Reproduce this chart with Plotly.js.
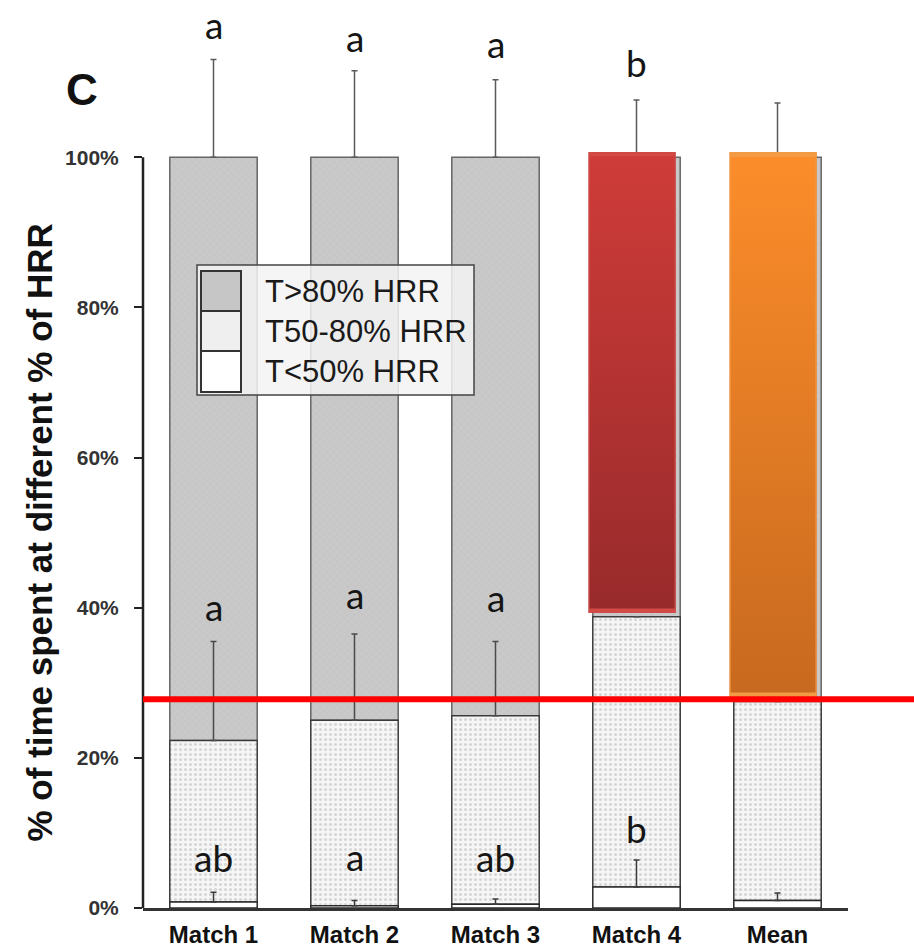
<!DOCTYPE html>
<html>
<head>
<meta charset="utf-8">
<script src="https://cdn.plot.ly/plotly-3.0.1.min.js"></script>
<style>
  html, body { margin: 0; padding: 0; background: #ffffff; }
  #chart { width: 914px; height: 951px; }
</style>
</head>
<body>
<div id="chart"></div>
<script>
// ---------------- data ----------------
const categories = ['Match 1', 'Match 2', 'Match 3', 'Match 4', 'Mean'];
const seriesNames = ['T>80% HRR', 'T50-80% HRR', 'T<50% HRR'];
const yTickVals = [0, 20, 40, 60, 80, 100];
const yTickText = ['0%', '20%', '40%', '60%', '80%', '100%'];
const yTitle = '% of time spent at different % of HRR';

// % of time in each zone (stacked bottom -> top: low, mid, high)
const lowZone  = [0.8, 0.3, 0.5, 2.8, 1.0];     // T<50% HRR
const midZone  = [21.5, 24.7, 25.1, 36.0, 26.5]; // T50-80% HRR
const highZone = [77.7, 75.0, 74.4, 61.2, 72.5]; // T>80% HRR

// upper error bars (SD)
const highErr = [13.0, 11.5, 10.3, 7.6, 7.2];
const midErr  = [13.2, 11.5, 9.9, null, null];
const lowErr  = [1.3, 0.7, 0.7, 3.6, 1.0];

// significance letters
const highLetters = ['a', 'a', 'a', 'b', ''];
const highLetterY = [117.7, 116.0, 115.2, 112.6, null];
const midLetters  = ['a', 'a', 'a', '', ''];
const midLetterY  = [40.1, 41.8, 41.3, null, null];
const lowLetters  = ['ab', 'a', 'ab', 'b', ''];
const lowLetterY  = [6.7, 6.8, 6.7, 10.6, null];

// highlighted overlay blocks (Match 4 and Mean)
const highlightBase = [null, null, null, 39.3, 28.0];
const highlightTop  = [null, null, null, 100.7, 100.7];

// reference line
const refLineValue = 27.8;

// ---------------- build ----------------
const FONT = 'Liberation Sans, Arial, sans-serif';
const XR = [-0.5, 4.5], YR = [0, 120];
const midBase  = lowZone.slice();
const highBase = lowZone.map((v, i) => v + midZone[i]);
const BAR_W = 0.62, HL_W = 0.617, HL_OFF = -0.34;

const traceHigh = {
  type: 'bar', name: seriesNames[0], x: categories, y: highZone, base: highBase,
  width: BAR_W, showlegend: false,
  marker: { color: '#c8c8c8', line: { color: '#666', width: 1.5 },
            pattern: { shape: 'x', fgcolor: '#bdbdbd', bgcolor: '#c9c9c9', size: 5, solidity: 0.15 } },
  error_y: { type: 'data', array: highErr, symmetric: false, arrayminus: highErr.map(() => 0),
             color: '#5a5a5a', thickness: 1.5, width: 3 },
  hoverinfo: 'skip'
};
const traceMid = {
  type: 'bar', name: seriesNames[1], x: categories, y: midZone, base: midBase,
  width: BAR_W, showlegend: false,
  marker: { color: '#f3f3f3', line: { color: '#3a3a3a', width: 1.5 },
            pattern: { shape: '.', fgcolor: '#d6d6d6', bgcolor: '#f6f6f6', size: 5, solidity: 0.3 } },
  error_y: { type: 'data', array: midErr, symmetric: false, arrayminus: midErr.map(() => 0),
             color: '#4a4a4a', thickness: 1.5, width: 3 },
  hoverinfo: 'skip'
};
const traceLow = {
  type: 'bar', name: seriesNames[2], x: categories, y: lowZone, base: lowZone.map(() => 0),
  width: BAR_W, showlegend: false,
  marker: { color: '#ffffff', line: { color: '#2a2a2a', width: 1.5 } },
  error_y: { type: 'data', array: lowErr, symmetric: false, arrayminus: lowErr.map(() => 0),
             color: '#3a3a3a', thickness: 1.5, width: 3 },
  hoverinfo: 'skip'
};
const hlColors = [null, null, null, '#b83533', '#e67a24'];
const traceHighlight = {
  type: 'bar', name: 'highlight', x: categories,
  y: highlightTop.map((t, i) => (t == null ? null : t - highlightBase[i])),
  base: highlightBase, width: HL_W, offset: HL_OFF, showlegend: false,
  marker: { color: hlColors, line: { width: 0 } },
  hoverinfo: 'skip'
};

// gradient overlays for the highlighted blocks (placed on the data axes)
function gradSvg(c1, c2, edge) {
  const s = "<svg xmlns='http://www.w3.org/2000/svg' width='100' height='100' viewBox='0 0 100 100' preserveAspectRatio='none'>" +
    "<defs><linearGradient id='g' x1='0' y1='0' x2='0' y2='1'><stop offset='0' stop-color='" + c1 + "'/>" +
    "<stop offset='1' stop-color='" + c2 + "'/></linearGradient></defs>" +
    "<rect x='0' y='0' width='100' height='100' fill='url(#g)'/>" +
    "<rect x='0.5' y='0.2' width='99' height='99.6' fill='none' stroke='" + edge + "' stroke-width='1.5' vector-effect='non-scaling-stroke'/></svg>";
  return 'data:image/svg+xml;charset=utf-8,' + encodeURIComponent(s);
}
const gradStops = [null, null, null, ['#cf3c39', '#982a2b', '#d24a46'], ['#fc8d2a', '#c7691f', '#f39a45']];
const images = [];
categories.forEach((c, i) => {
  if (highlightBase[i] == null) return;
  images.push({
    source: gradSvg(gradStops[i][0], gradStops[i][1], gradStops[i][2]),
    xref: 'x', yref: 'y', x: i + HL_OFF, y: highlightTop[i],
    sizex: HL_W, sizey: highlightTop[i] - highlightBase[i],
    xanchor: 'left', yanchor: 'top', sizing: 'stretch', layer: 'above'
  });
});

// annotations: letters
const annotations = [];
function addLetters(txts, ys) {
  txts.forEach((t, i) => {
    if (!t) return;
    annotations.push({ x: categories[i], y: ys[i], xref: 'x', yref: 'y', text: t, showarrow: false,
      xanchor: 'center', yanchor: 'middle', font: { family: 'Lato, Open Sans, sans-serif', size: 37, color: '#151515' } });
  });
}
addLetters(highLetters, highLetterY);
addLetters(midLetters, midLetterY);
addLetters(lowLetters, lowLetterY);

// plot area in pixels (for the drawn legend box, panel letter and y title)
const L = 143, T = 7, PW = 705, PH = 901;
const px = v => (v - L) / PW;
const py = v => (T + PH - v) / PH;

// panel letter
annotations.push({ xref: 'paper', yref: 'paper', x: px(82), y: py(89), text: 'C', showarrow: false,
  xanchor: 'center', yanchor: 'middle', font: { family: FONT, size: 44, color: '#111', weight: 'bold' } });

// y axis title (centred on the 0-100% span of the axis)
annotations.push({ xref: 'paper', yref: 'y', x: px(40), y: (yTickVals[0] + yTickVals[yTickVals.length - 1]) / 2,
  text: yTitle, textangle: -90, showarrow: false, xanchor: 'center', yanchor: 'middle',
  font: { family: FONT, size: 35, color: '#111', weight: 'bold' } });

const shapes = [];
// y axis line 0..100%
shapes.push({ type: 'line', xref: 'paper', yref: 'y', x0: 0, x1: 0, y0: 0, y1: 100,
  line: { color: '#222', width: 2.5 } });
// red reference line
shapes.push({ type: 'line', xref: 'paper', yref: 'y', x0: 0, x1: px(914), y0: refLineValue, y1: refLineValue,
  line: { color: '#ff0000', width: 6 }, layer: 'above' });

// legend box
shapes.push({ type: 'rect', xref: 'paper', yref: 'paper', x0: px(197), x1: px(474), y0: py(395), y1: py(265),
  fillcolor: 'rgba(243,243,243,0.85)', line: { color: '#444', width: 1.5 }, layer: 'above' });
const swFill = ['#c6c6c6', '#efefef', '#ffffff'];
const swTop = [271, 311, 351], swBot = [311, 351, 392];
seriesNames.forEach((n, k) => {
  shapes.push({ type: 'rect', xref: 'paper', yref: 'paper', x0: px(201), x1: px(241), y0: py(swBot[k]), y1: py(swTop[k]),
    fillcolor: swFill[k], line: { color: '#333', width: 2 }, layer: 'above' });
  annotations.push({ xref: 'paper', yref: 'paper', x: px(263), y: py((swTop[k] + swBot[k]) / 2), text: n,
    showarrow: false, xanchor: 'left', yanchor: 'middle', font: { family: FONT, size: 31, color: '#1a1a1a' } });
});

const layout = {
  width: 914, height: 951,
  margin: { l: L, r: 914 - L - PW, t: T, b: 951 - T - PH },
  paper_bgcolor: '#ffffff', plot_bgcolor: '#ffffff',
  barmode: 'overlay',
  showlegend: false,
  xaxis: {
    type: 'category', range: XR, showgrid: false, zeroline: false,
    showline: true, linecolor: '#333', linewidth: 3, ticks: '',
    tickfont: { family: FONT, size: 24, color: '#111', weight: 'bold' },
    ticklabelstandoff: 3
  },
  yaxis: {
    range: YR, showgrid: false, zeroline: false, showline: false,
    tickmode: 'array', tickvals: yTickVals, ticktext: yTickText,
    ticks: 'outside', ticklen: 8, tickwidth: 2, tickcolor: '#222',
    tickfont: { family: FONT, size: 21, color: '#333', weight: 'bold' },
    ticklabelstandoff: 11
  },
  shapes: shapes,
  annotations: annotations,
  images: images
};

Plotly.newPlot('chart', [traceHigh, traceMid, traceLow, traceHighlight], layout, { displayModeBar: false, staticPlot: true });
</script>
</body>
</html>
